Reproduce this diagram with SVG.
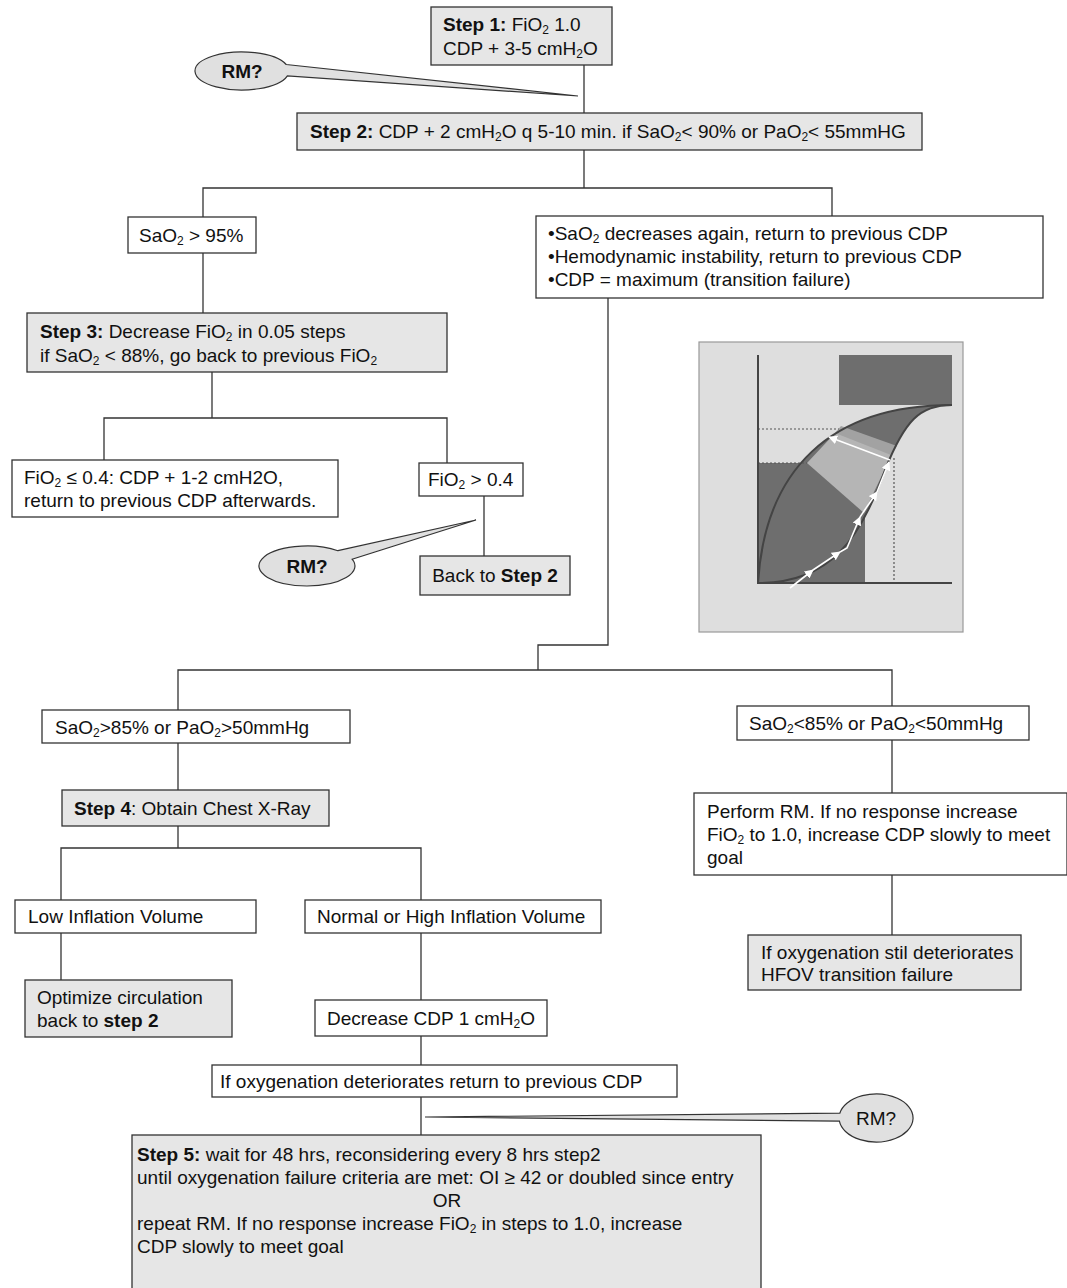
<svg xmlns="http://www.w3.org/2000/svg" width="1067" height="1288" viewBox="0 0 1067 1288">
<defs>
<style>
.box{fill:#fff;stroke:#333;stroke-width:1.3}
.gbox{fill:#e6e6e6;stroke:#333;stroke-width:1.3}
.t{font-family:"Liberation Sans",Arial,sans-serif;font-size:19px;fill:#111}
.b{font-weight:bold}
.s{font-size:12px}
.rm{fill:#e0e0e0;stroke:#333;stroke-width:1.2}
#connectors line,#connectors polyline{stroke:#333;stroke-width:1.3;fill:none}
.wl{stroke:#fff;stroke-width:1.6;fill:none}
</style>
<marker id="wa" viewBox="0 0 10 10" refX="9" refY="5" markerWidth="9" markerHeight="9" orient="auto" markerUnits="userSpaceOnUse"><path d="M0,0 L10,5 L0,10 z" fill="#fff"/></marker>
</defs>
<rect width="1067" height="1288" fill="#fff"/>

<g id="connectors">
<line x1="584" y1="65" x2="584" y2="113"/>
<polyline points="584,150 584,188"/>
<polyline points="203,217 203,188 832,188 832,216"/>
<line x1="203" y1="253" x2="203" y2="313"/>
<line x1="212" y1="372" x2="212" y2="418"/>
<polyline points="104,460 104,418 447,418 447,463"/>
<line x1="484" y1="496" x2="484" y2="556"/>
<polyline points="608,298 608,645 538,645 538,670"/>
<polyline points="178,710 178,670 892,670 892,706"/>
<line x1="178" y1="743" x2="178" y2="790"/>
<line x1="178" y1="826" x2="178" y2="848"/>
<polyline points="61,900 61,848 421,848 421,900"/>
<line x1="61" y1="933" x2="61" y2="980"/>
<line x1="421" y1="933" x2="421" y2="1000"/>
<line x1="421" y1="1036" x2="421" y2="1065"/>
<line x1="421" y1="1097" x2="421" y2="1135"/>
<line x1="892" y1="740" x2="892" y2="793"/>
<line x1="892" y1="875" x2="892" y2="935"/>
</g>

<g id="step1">
<rect class="gbox" x="431" y="7" width="181" height="58"/>
<text class="t" x="443" y="31"><tspan class="b">Step 1:</tspan> FiO<tspan class="s" dy="3">2</tspan><tspan dy="-3"> 1.0</tspan></text>
<text class="t" x="443" y="55">CDP + 3-5 cmH<tspan class="s" dy="3">2</tspan><tspan dy="-3">O</tspan></text>
</g>

<g id="rm1">
<path class="rm" d="M286.2,64.5 L578,96 L287.4,75.9 A47,19 0 1 1 286.2,64.5 Z"/>
<text class="t b" x="242" y="78" text-anchor="middle">RM?</text>
</g>

<g id="step2">
<rect class="gbox" x="297" y="113" width="625" height="37"/>
<text class="t" x="310" y="138"><tspan class="b">Step 2:</tspan> CDP + 2 cmH<tspan class="s" dy="3">2</tspan><tspan dy="-3">O q 5-10 min. if SaO</tspan><tspan class="s" dy="3">2</tspan><tspan dy="-3">&lt; 90% or PaO</tspan><tspan class="s" dy="3">2</tspan><tspan dy="-3">&lt; 55mmHG</tspan></text>
</g>

<g id="sao2-95">
<rect class="box" x="128" y="217" width="128" height="36"/>
<text class="t" x="139" y="242">SaO<tspan class="s" dy="3">2</tspan><tspan dy="-3"> &gt; 95%</tspan></text>
</g>

<g id="bullets">
<rect class="box" x="536" y="216" width="507" height="82"/>
<text class="t" x="548" y="240">•SaO<tspan class="s" dy="3">2</tspan><tspan dy="-3"> decreases again, return to previous CDP</tspan></text>
<text class="t" x="548" y="263">•Hemodynamic instability, return to previous CDP</text>
<text class="t" x="548" y="286">•CDP = maximum (transition failure)</text>
</g>

<g id="step3">
<rect class="gbox" x="27" y="313" width="420" height="59"/>
<text class="t" x="40" y="338"><tspan class="b">Step 3:</tspan> Decrease FiO<tspan class="s" dy="3">2</tspan><tspan dy="-3"> in 0.05 steps</tspan></text>
<text class="t" x="40" y="362">if SaO<tspan class="s" dy="3">2</tspan><tspan dy="-3"> &lt; 88%, go back to previous FiO</tspan><tspan class="s" dy="3">2</tspan></text>
</g>

<g id="fio2-low">
<rect class="box" x="12" y="460" width="326" height="57"/>
<text class="t" x="24" y="484">FiO<tspan class="s" dy="3">2</tspan><tspan dy="-3"> ≤ 0.4: CDP + 1-2 cmH2O,</tspan></text>
<text class="t" x="24" y="507">return to previous CDP afterwards.</text>
</g>

<g id="fio2-high">
<rect class="box" x="419" y="463" width="104" height="33"/>
<text class="t" x="428" y="486">FiO<tspan class="s" dy="3">2</tspan><tspan dy="-3"> &gt; 0.4</tspan></text>
</g>

<g id="rm2">
<path class="rm" d="M337.9,550.7 L476,520 L352.1,559.2 A48,20 0 1 1 337.9,550.7 Z"/>
<text class="t b" x="307" y="573" text-anchor="middle">RM?</text>
</g>

<g id="back2">
<rect class="gbox" x="420" y="556" width="150" height="39"/>
<text class="t" x="495" y="582" text-anchor="middle">Back to <tspan class="b">Step 2</tspan></text>
</g>

<g id="chart">
<rect x="699" y="342" width="264" height="290" fill="#dedede" stroke="#999" stroke-width="1.2"/>
<rect x="758" y="463" width="107" height="120" fill="#6e6e6e"/>
<rect x="839" y="355" width="113" height="50" fill="#6e6e6e"/>
<path d="M758,583 C765,470 830,405 952,405 C920,405 905,420 885,470 C860,540 830,583 758,583 Z" fill="#6e6e6e"/>
<polygon points="807,463 837,431 893,452 864,513" fill="#b5b5b5"/>
<polygon points="835,433 841,426 897,446 891,455" fill="#a2a2a2"/>
<path d="M758,583 C765,470 830,405 952,405" fill="none" stroke="#444" stroke-width="2"/>
<path d="M758,583 C830,583 860,540 885,470 C905,420 920,405 952,405" fill="none" stroke="#444" stroke-width="2"/>
<line x1="758" y1="429" x2="839" y2="429" stroke="#555" stroke-width="1.2" stroke-dasharray="2,2"/>
<line x1="758" y1="463" x2="807" y2="463" stroke="#555" stroke-width="1.2" stroke-dasharray="2,2"/>
<line x1="894" y1="458" x2="894" y2="583" stroke="#555" stroke-width="1.2" stroke-dasharray="2,2"/>
<polyline points="758,355 758,583 952,583" fill="none" stroke="#444" stroke-width="2"/>
<line class="wl" x1="790" y1="588" x2="813" y2="570" marker-end="url(#wa)"/>
<line class="wl" x1="813" y1="570" x2="840" y2="552" marker-end="url(#wa)"/>
<polyline class="wl" points="840,552 847,548 860,517" marker-end="url(#wa)"/>
<line class="wl" x1="860" y1="517" x2="877" y2="492" marker-end="url(#wa)"/>
<line class="wl" x1="877" y1="492" x2="889" y2="462" marker-end="url(#wa)"/>
<line class="wl" x1="890" y1="460" x2="829" y2="437" marker-end="url(#wa)"/>
</g>

<g id="sao2-gt85">
<rect class="box" x="42" y="710" width="308" height="33"/>
<text class="t" x="55" y="734">SaO<tspan class="s" dy="3">2</tspan><tspan dy="-3">&gt;85% or PaO</tspan><tspan class="s" dy="3">2</tspan><tspan dy="-3">&gt;50mmHg</tspan></text>
</g>

<g id="sao2-lt85">
<rect class="box" x="737" y="706" width="292" height="34"/>
<text class="t" x="749" y="730">SaO<tspan class="s" dy="3">2</tspan><tspan dy="-3">&lt;85% or PaO</tspan><tspan class="s" dy="3">2</tspan><tspan dy="-3">&lt;50mmHg</tspan></text>
</g>

<g id="step4">
<rect class="gbox" x="62" y="790" width="267" height="36"/>
<text class="t" x="74" y="815"><tspan class="b">Step 4</tspan>: Obtain Chest X-Ray</text>
</g>

<g id="perform-rm">
<rect class="box" x="694" y="793" width="373" height="82"/>
<text class="t" x="707" y="818">Perform RM. If no response increase</text>
<text class="t" x="707" y="841">FiO<tspan class="s" dy="3">2</tspan><tspan dy="-3"> to 1.0,  increase CDP slowly to meet</tspan></text>
<text class="t" x="707" y="864">goal</text>
</g>

<g id="hfov-fail">
<rect class="gbox" x="748" y="935" width="273" height="55"/>
<text class="t" x="761" y="959">If oxygenation stil deteriorates</text>
<text class="t" x="761" y="981">HFOV transition failure</text>
</g>

<g id="low-infl">
<rect class="box" x="15" y="900" width="241" height="33"/>
<text class="t" x="28" y="923">Low Inflation Volume</text>
</g>

<g id="high-infl">
<rect class="box" x="305" y="900" width="296" height="33"/>
<text class="t" x="317" y="923">Normal or High Inflation Volume</text>
</g>

<g id="optimize">
<rect class="gbox" x="25" y="980" width="207" height="57"/>
<text class="t" x="37" y="1004">Optimize circulation</text>
<text class="t" x="37" y="1027">back to <tspan class="b">step 2</tspan></text>
</g>

<g id="decrease">
<rect class="box" x="315" y="1000" width="232" height="36"/>
<text class="t" x="327" y="1025">Decrease CDP 1 cmH<tspan class="s" dy="3">2</tspan><tspan dy="-3">O</tspan></text>
</g>

<g id="if-oxy">
<rect class="box" x="212" y="1065" width="465" height="32"/>
<text class="t" x="220" y="1088">If oxygenation deteriorates return to previous CDP</text>
</g>

<g id="rm3">
<path class="rm" d="M839.8,1113.2 L425,1117 L839.4,1121.2 A37,24 0 1 0 839.8,1113.2 Z"/>
<text class="t" x="876" y="1125" text-anchor="middle">RM?</text>
</g>

<g id="step5">
<rect class="gbox" x="132" y="1135" width="629" height="160"/>
<text class="t" x="137" y="1161"><tspan class="b">Step 5:</tspan> wait for 48 hrs, reconsidering every 8 hrs step2</text>
<text class="t" x="137" y="1184">until oxygenation failure criteria are met: OI ≥ 42 or doubled since entry</text>
<text class="t" x="447" y="1207" text-anchor="middle">OR</text>
<text class="t" x="137" y="1230">repeat RM. If no response increase FiO<tspan class="s" dy="3">2</tspan><tspan dy="-3"> in steps to 1.0,  increase</tspan></text>
<text class="t" x="137" y="1253">CDP slowly to meet goal</text>
</g>
</svg>
